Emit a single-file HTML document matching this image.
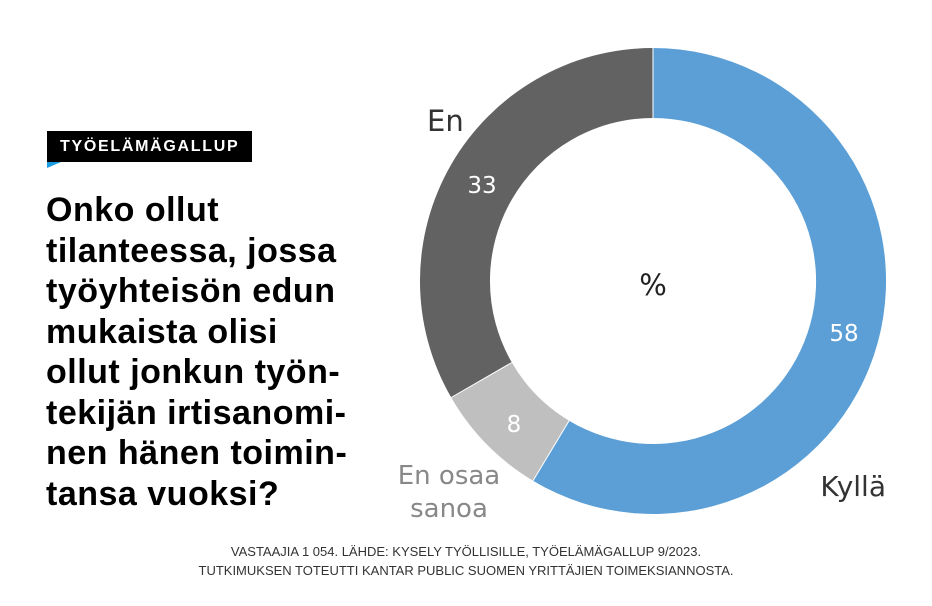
<!DOCTYPE html>
<html><head><meta charset="utf-8"><style>
html,body{margin:0;padding:0;background:#fff;}
body{width:932px;height:606px;position:relative;overflow:hidden;font-family:"Liberation Sans",sans-serif;}
.tag{position:absolute;left:47px;top:131px;width:205px;height:31px;background:#000;color:#fff;font-weight:bold;font-size:16px;letter-spacing:1.7px;line-height:31px;text-indent:13px;}
.tri{position:absolute;left:47px;top:162px;width:0;height:0;border-top:6px solid #1a9be0;border-right:14px solid transparent;}
.title{position:absolute;left:46px;top:190px;width:360px;font-weight:bold;font-size:34px;line-height:40.5px;color:#000;letter-spacing:0.5px;}
.foot{position:absolute;left:0;width:932px;top:542px;text-align:center;font-size:13px;line-height:19px;color:#333;}
</style></head><body>
<div class="tag">TYÖELÄMÄGALLUP</div>
<div class="tri"></div>
<div class="title">Onko ollut<br>tilanteessa, jossa<br>työyhteisön edun<br>mukaista olisi<br>ollut jonkun työn-<br>tekijän irtisanomi-<br>nen hänen toimin-<br>tansa vuoksi?</div>
<svg width="932" height="606" style="position:absolute;left:0;top:0" font-family="DejaVu Sans, Liberation Sans, sans-serif">
<path d="M653,48 A233,233 0 1 1 533.0,480.7 L569.1,420.7 A163,163 0 1 0 653,118 Z" fill="#5b9fd6"/>
<path d="M533.0,480.7 A233,233 0 0 1 451.2,397.5 L511.8,362.5 A163,163 0 0 0 569.1,420.7 Z" fill="#bfbfbf"/>
<path d="M451.2,397.5 A233,233 0 0 1 653,48 L653,118 A163,163 0 0 0 511.8,362.5 Z" fill="#626262"/>
<line x1="653" y1="48" x2="653" y2="118" stroke="#fff" stroke-width="1"/>
<line x1="533" y1="480.7" x2="569.1" y2="420.7" stroke="#fff" stroke-width="1"/>
<line x1="451.2" y1="397.5" x2="511.8" y2="362.5" stroke="#fff" stroke-width="1"/>
<text x="427" y="131" font-size="29" fill="#333">En</text>
<text x="482" y="193" font-size="23" fill="#fff" text-anchor="middle">33</text>
<text x="844" y="341" font-size="23" fill="#fff" text-anchor="middle">58</text>
<text x="514" y="432" font-size="23" fill="#fff" text-anchor="middle">8</text>
<text x="653" y="295" font-size="29" fill="#222" text-anchor="middle">%</text>
<text x="886" y="496" font-size="28" fill="#333" text-anchor="end">Kyllä</text>
<text x="449" y="484" font-size="26" fill="#888" text-anchor="middle">En osaa</text>
<text x="449" y="517" font-size="26" fill="#888" text-anchor="middle">sanoa</text>
</svg>
<div class="foot">VASTAAJIA 1 054. LÄHDE: KYSELY TYÖLLISILLE, TYÖELÄMÄGALLUP 9/2023.<br>TUTKIMUKSEN TOTEUTTI KANTAR PUBLIC SUOMEN YRITTÄJIEN TOIMEKSIANNOSTA.</div>
</body></html>
